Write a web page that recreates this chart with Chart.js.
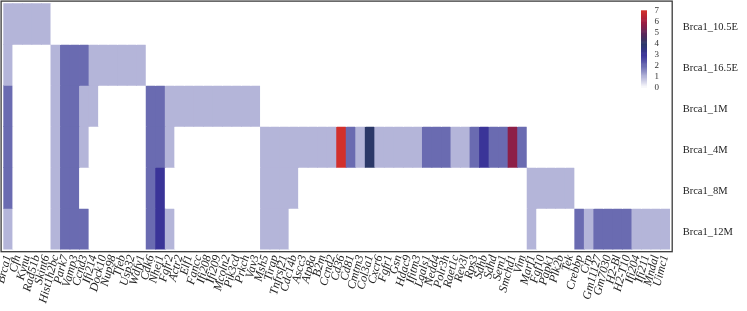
<!DOCTYPE html>
<html>
<head>
<meta charset="utf-8">
<script src="https://cdn.jsdelivr.net/npm/chart.js@4"></script>
<style>
html,body{margin:0;padding:0;background:#fff;}
#wrap{width:747px;height:311px;position:relative;}
</style>
</head>
<body>
<div id="wrap"><canvas id="c"></canvas></div>
<script>
const genes = ["Brca1","Cfh","Kynu","Rad51b","Skint6","Hist1h2bc","Park7","Vamp3","Ccnd3","Ifi214",
"Dock10","Nup98","Tfeb","Usp32","Wdfy1","Cdk6","Nhej1","Fgfr2","Actr2","Elf1",
"Fancc","Ifi208","Ifi209","Mcoln2","Pik3cd","Prkch","Vav3","Msh5","Tirap","Tnfrsf21",
"Cdc14b","Ascc3","Atp8a","B2m","Ccnd2","Cd36","Cd81","Cmtm3","Col3a1","Cxcr6",
"Fgfr1","Gsn","Hdac9","Ifitm3","Lgals1","Nedd4","Polr3h","Raet1c","Rev3l","Rps3",
"Sdhb","Sdhd","Sem1","Smchd1","Vim","Marf1","Fgf10","Papk1","Plk2b","Tek",
"Crebbp","Crp","Gm11127","Gm7030","H2-Bl","H2-T10","Ifi204","Ifi211","Mndal","Uimc1"];

const rowNames = ["Brca1_10.5E","Brca1_16.5E","Brca1_1M","Brca1_4M","Brca1_8M","Brca1_12M"];

const brca1_10_5E = [1,1,1,1,1,0,0,0,0,0, 0,0,0,0,0,0,0,0,0,0, 0,0,0,0,0,0,0,0,0,0, 0,0,0,0,0,0,0,0,0,0, 0,0,0,0,0,0,0,0,0,0, 0,0,0,0,0,0,0,0,0,0, 0,0,0,0,0,0,0,0,0,0];
const brca1_16_5E = [1,0,0,0,0,1,2,2,2,1, 1,1,1,1,1,0,0,0,0,0, 0,0,0,0,0,0,0,0,0,0, 0,0,0,0,0,0,0,0,0,0, 0,0,0,0,0,0,0,0,0,0, 0,0,0,0,0,0,0,0,0,0, 0,0,0,0,0,0,0,0,0,0];
const brca1_1M    = [2,0,0,0,0,1,2,2,1,1, 0,0,0,0,0,2,2,1,1,1, 1,1,1,1,1,1,1,0,0,0, 0,0,0,0,0,0,0,0,0,0, 0,0,0,0,0,0,0,0,0,0, 0,0,0,0,0,0,0,0,0,0, 0,0,0,0,0,0,0,0,0,0];
const brca1_4M    = [2,0,0,0,0,1,2,2,1,0, 0,0,0,0,0,2,2,1,0,0, 0,0,0,0,0,0,0,1,1,1, 1,1,1,1,1,7,2,1,4,1, 1,1,1,1,2,2,2,1,1,2, 3,2,2,5.7,2,0,0,0,0,0, 0,0,0,0,0,0,0,0,0,0];
const brca1_8M    = [2,0,0,0,0,1,2,2,0,0, 0,0,0,0,0,2,3,0,0,0, 0,0,0,0,0,0,0,1,1,1, 1,0,0,0,0,0,0,0,0,0, 0,0,0,0,0,0,0,0,0,0, 0,0,0,0,0,1,1,1,1,1, 0,0,0,0,0,0,0,0,0,0];
const brca1_12M   = [1,0,0,0,0,1,2,2,2,0, 0,0,0,0,0,2,3,1,0,0, 0,0,0,0,0,0,0,1,1,1, 0,0,0,0,0,0,0,0,0,0, 0,0,0,0,0,0,0,0,0,0, 0,0,0,0,0,1,0,0,0,0, 2,1,2,2,2,2,1,1,1,1];

const rowValues = [brca1_10_5E, brca1_16_5E, brca1_1M, brca1_4M, brca1_8M, brca1_12M];
const legendTicks = [0,1,2,3,4,5,6,7];

// colour scale (style)
const stops = [
  [255,255,255],[180,181,217],[106,107,177],[58,52,152],
  [43,56,104],[96,38,88],[160,28,64],[210,48,44]
];
function colorFor(v){
  if (v <= 0) return 'rgb(255,255,255)';
  if (v >= 7) return 'rgb(' + stops[7].join(',') + ')';
  const i = Math.floor(v), f = v - i;
  const a = stops[i], b = stops[i+1];
  const c = a.map((x,k)=>Math.round(x + (b[k]-x)*f));
  return 'rgb(' + c.join(',') + ')';
}

const datasets = rowValues.map((vals, r) => ({
  label: rowNames[r],
  data: vals.map(() => [r, r+1]),
  backgroundColor: vals.map(colorFor),
  borderWidth: 0,
  barPercentage: 1,
  categoryPercentage: 1,
  grouped: false,
  inflateAmount: 0.4
}));

function zeroPad(scale){
  scale.paddingTop = 0; scale.paddingBottom = 0;
  scale.paddingLeft = 0; scale.paddingRight = 0;
}

const framePlugin = {
  id: 'frame',
  afterDraw(chart){
    const {ctx, chartArea: a} = chart;
    ctx.save();
    ctx.strokeStyle = '#3a3a3a';
    ctx.lineWidth = 1.3;
    ctx.strokeRect(a.left - 2.2, a.top - 2.2, a.right - a.left + 4.4, a.bottom - a.top + 4.4);
    // colour legend
    const x = a.right - 29, w = 6, top = a.top + 7, bottom = a.top + 84;
    const n = 70;
    for (let k = 0; k < n; k++) {
      const v = 7 * (1 - k / n);
      const y0 = top + (bottom - top) * k / n;
      ctx.fillStyle = colorFor(v);
      ctx.fillRect(x, y0, w, (bottom - top) / n + 0.6);
    }
    ctx.fillStyle = '#333';
    ctx.font = '9px "Liberation Serif"';
    ctx.textAlign = 'left';
    ctx.textBaseline = 'middle';
    legendTicks.forEach(t => {
      const y = bottom - (bottom - top) * t / 7;
      ctx.fillText(String(t), x + 13.5, y);
    });
    ctx.restore();
  }
};

new Chart(document.getElementById('c'), {
  type: 'bar',
  data: { labels: genes, datasets },
  options: {
    responsive: true,
    maintainAspectRatio: false,
    animation: false,
    layout: { padding: { left: 3.3, top: 3.3, right: 0, bottom: 0 } },
    plugins: { legend: { display: false }, tooltip: { enabled: false } },
    scales: {
      x: {
        type: 'category',
        grid: { display: false, drawTicks: false },
        border: { display: false },
        ticks: {
          autoSkip: false,
          minRotation: 75,
          maxRotation: 75,
          padding: 4,
          color: '#222',
          font: { family: '"Liberation Serif"', size: 12, style: 'italic' }
        },
        afterFit(scale){ scale.height = 61.5; zeroPad(scale); }
      },
      y: {
        type: 'linear',
        position: 'right',
        min: 0, max: 6,
        reverse: true,
        grid: { display: false, drawTicks: false },
        border: { display: false },
        afterBuildTicks(scale){ scale.ticks = rowNames.map((n,i)=>({value: i + 0.5})); },
        ticks: {
          padding: 12.7,
          labelOffset: 3,
          color: '#222',
          font: { family: '"Liberation Serif"', size: 10.5 },
          callback(value){ return rowNames[Math.floor(value)]; }
        },
        afterFit(scale){ scale.width = 77; zeroPad(scale); }
      }
    }
  },
  plugins: [framePlugin]
});
</script>
</body>
</html>
